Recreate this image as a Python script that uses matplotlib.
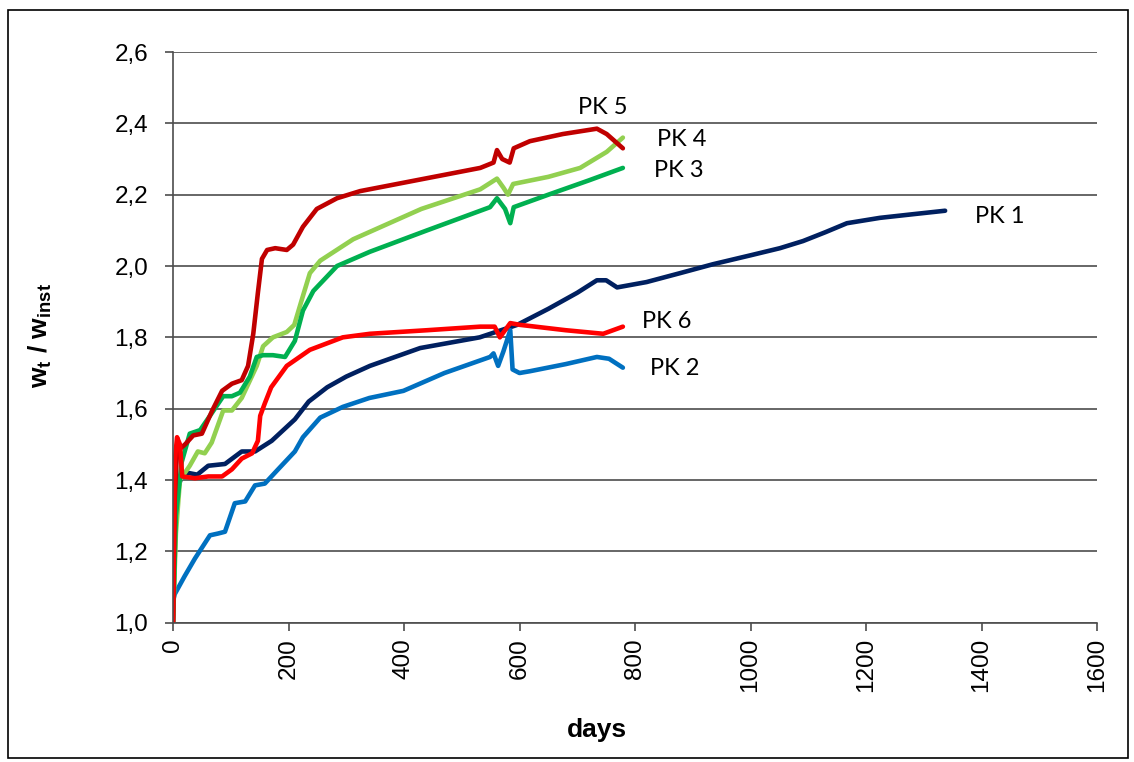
import matplotlib
matplotlib.use("Agg")
import matplotlib.pyplot as plt
from matplotlib.patches import Rectangle

# PK 1 .. PK 6: days and w_t / w_inst
days_pk1 = [0, 5, 15, 26, 42, 61, 90, 119, 142, 171, 211, 235, 267, 300, 341, 428, 531, 596, 650, 700, 734, 750, 769, 820, 878, 935, 1000, 1051, 1091, 1130, 1167, 1224, 1280, 1337]
vals_pk1 = [1.0, 1.36, 1.41, 1.42, 1.415, 1.44, 1.445, 1.48, 1.48, 1.51, 1.57, 1.62, 1.66, 1.69, 1.72, 1.77, 1.80, 1.835, 1.88, 1.925, 1.96, 1.96, 1.94, 1.955, 1.98, 2.005, 2.03, 2.05, 2.07, 2.095, 2.12, 2.135, 2.145, 2.155]

days_pk2 = [0, 3, 20, 38, 64, 78, 90, 107, 125, 142, 159, 182, 211, 225, 255, 294, 340, 399, 470, 549, 555, 563, 572, 584, 588, 600, 618, 680, 734, 755, 779]
vals_pk2 = [1.06, 1.08, 1.13, 1.18, 1.245, 1.25, 1.255, 1.335, 1.34, 1.385, 1.39, 1.43, 1.48, 1.52, 1.575, 1.605, 1.63, 1.65, 1.70, 1.745, 1.755, 1.72, 1.76, 1.82, 1.71, 1.70, 1.705, 1.725, 1.745, 1.74, 1.715]

days_pk3 = [0, 5, 15, 29, 47, 64, 87, 102, 116, 133, 145, 156, 173, 194, 211, 225, 243, 284, 341, 440, 549, 561, 575, 584, 590, 650, 720, 779]
vals_pk3 = [1.0, 1.30, 1.45, 1.53, 1.54, 1.58, 1.635, 1.635, 1.645, 1.69, 1.745, 1.75, 1.75, 1.745, 1.79, 1.875, 1.93, 2.0, 2.04, 2.10, 2.165, 2.19, 2.16, 2.12, 2.165, 2.20, 2.24, 2.275]

days_pk4 = [0, 5, 12, 29, 43, 55, 67, 87, 102, 119, 145, 156, 173, 197, 210, 222, 237, 255, 312, 430, 532, 561, 572, 580, 589, 650, 705, 751, 779]
vals_pk4 = [1.0, 1.25, 1.40, 1.44, 1.48, 1.475, 1.505, 1.595, 1.595, 1.63, 1.72, 1.775, 1.80, 1.815, 1.835, 1.90, 1.98, 2.015, 2.075, 2.16, 2.215, 2.245, 2.22, 2.20, 2.23, 2.25, 2.275, 2.32, 2.36]

days_pk5 = [0, 3, 7, 21, 35, 50, 68, 85, 102, 119, 130, 139, 147, 154, 163, 177, 197, 208, 225, 249, 284, 324, 420, 532, 555, 561, 570, 583, 590, 618, 675, 734, 751, 779]
vals_pk5 = [1.0, 1.35, 1.48, 1.50, 1.525, 1.53, 1.595, 1.65, 1.67, 1.68, 1.72, 1.81, 1.925, 2.02, 2.045, 2.05, 2.045, 2.06, 2.11, 2.16, 2.19, 2.21, 2.24, 2.275, 2.29, 2.325, 2.30, 2.29, 2.33, 2.35, 2.37, 2.385, 2.37, 2.33]

days_pk6 = [0, 3, 7, 12, 16, 38, 61, 85, 102, 119, 137, 147, 151, 159, 170, 197, 237, 294, 341, 440, 532, 557, 566, 584, 601, 680, 745, 779]
vals_pk6 = [1.0, 1.45, 1.52, 1.50, 1.41, 1.405, 1.41, 1.41, 1.43, 1.46, 1.475, 1.51, 1.58, 1.615, 1.66, 1.72, 1.765, 1.80, 1.81, 1.82, 1.83, 1.83, 1.80, 1.84, 1.835, 1.82, 1.81, 1.83]

names = ["PK 1", "PK 2", "PK 3", "PK 4", "PK 5", "PK 6"]
colors = ["#002060", "#0070C0", "#00B050", "#92D050", "#C00000", "#FF0000"]
# label anchor (day, value) for each curve name
label_pos = [(1389, 2.138), (826, 1.713), (833, 2.267), (838, 2.354), (701, 2.444), (812, 1.845)]

y_ticks = [1.0, 1.2, 1.4, 1.6, 1.8, 2.0, 2.2, 2.4, 2.6]
x_ticks = [0, 200, 400, 600, 800, 1000, 1200, 1400, 1600]

plt.rcParams['font.family'] = ['Liberation Sans', 'DejaVu Sans']
plt.rcParams['mathtext.fontset'] = 'custom'
plt.rcParams['mathtext.bf'] = 'Liberation Sans:bold'
plt.rcParams['mathtext.rm'] = 'Liberation Sans'

fig = plt.figure(figsize=(11.34, 7.62), dpi=100)
ax = fig.add_axes([173/1134, 1 - 622.7/762, (1097 - 173)/1134, (622.7 - 52)/762])

series = [(days_pk1, vals_pk1), (days_pk2, vals_pk2), (days_pk3, vals_pk3),
          (days_pk4, vals_pk4), (days_pk5, vals_pk5), (days_pk6, vals_pk6)]
# draw order: PK 1, 2, 4, 3, 5, 6 so that red ends up on top
for i in [0, 1, 3, 2, 4, 5]:
    d, v = series[i]
    ax.plot(d, v, color=colors[i], lw=3.3, solid_joinstyle='round', solid_capstyle='round')

for name, (lx, ly) in zip(names, label_pos):
    ax.text(lx, ly, name, ha='left', va='center', fontsize=17, family='Lato')

ax.set_xlim(0, 1600)
ax.set_ylim(1.0, 2.6)
ax.set_xticks(x_ticks)
ax.set_yticks(y_ticks)
ax.set_xticklabels([str(t) for t in x_ticks], rotation=90, fontsize=17.5)
ax.set_yticklabels([("%.1f" % t).replace('.', ',') for t in y_ticks], fontsize=17.5)
ax.grid(axis='y', color='#4d4d4d', lw=1.2)
ax.set_axisbelow(True)
for s in ['top', 'right']:
    ax.spines[s].set_visible(False)
for s in ['left', 'bottom']:
    ax.spines[s].set_color('#4d4d4d')
    ax.spines[s].set_linewidth(1.2)
ax.tick_params(axis='y', length=6, width=1.2, color='#4d4d4d', pad=12)
ax.tick_params(axis='x', length=6, width=1.2, color='#4d4d4d', pad=5)

fig.text(597/1134, 1 - 730/762, "days", ha='center', va='center', fontsize=19, fontweight='bold')
fig.text(40/1134, 1 - 335/762, r'$\mathbf{w_t}$ / $\mathbf{w_{inst}}$', ha='center', va='center',
         rotation=90, fontsize=19, fontweight='bold')

fig.patches.append(Rectangle((7.5/1134, 1 - 757.5/762), 1120/1134, 747.5/762, transform=fig.transFigure,
                             fill=False, edgecolor='black', lw=1.2))

fig.savefig("out.png", dpi=100)
